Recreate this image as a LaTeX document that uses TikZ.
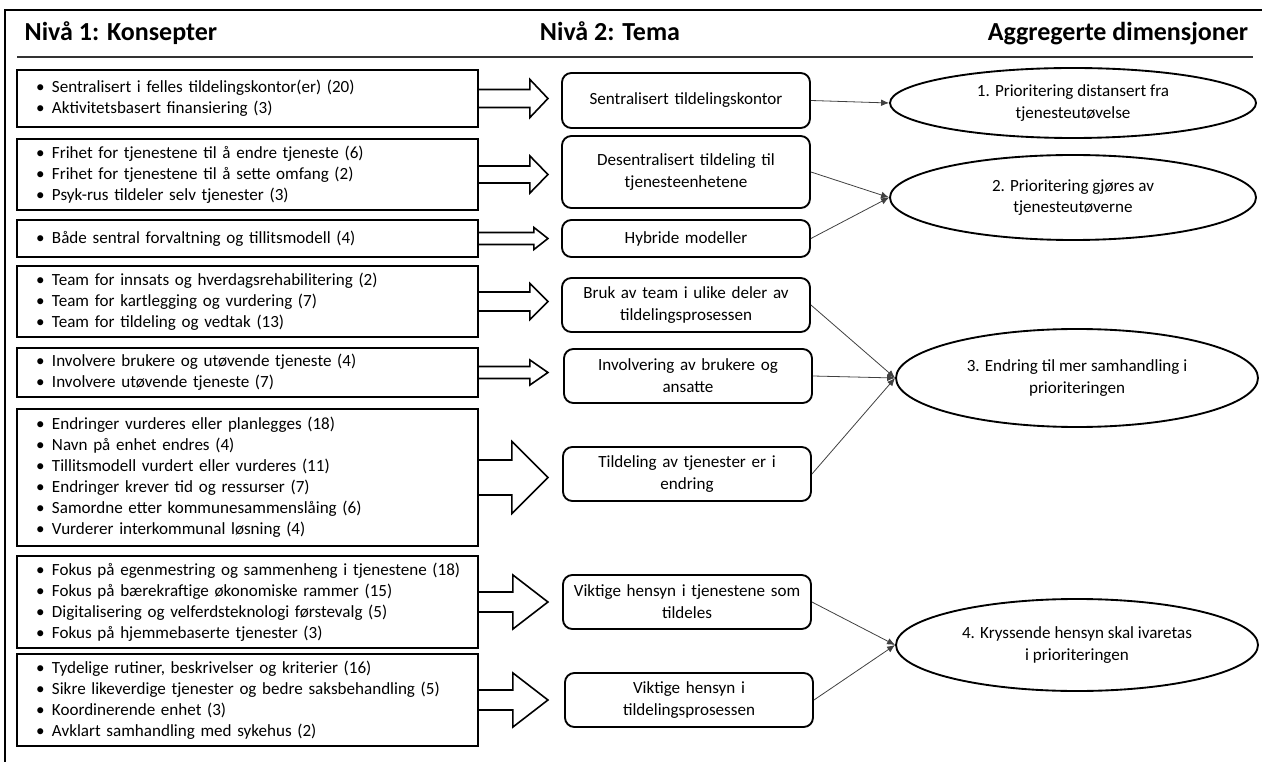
\documentclass[tikz,border=0pt]{standalone}
\usepackage{fontspec}
\setmainfont{Carlito}
\usetikzlibrary{shapes.geometric,arrows.meta}
\newcommand\pkt{\hspace*{14.25pt}\makebox[12pt][l]{\textbullet}}
\tikzset{
  konsept/.style={draw,line width=1.4pt,minimum width=345.75pt,text width=345.75pt,inner xsep=0pt,inner ysep=0pt,align=left,font=\fontsize{12.8}{15.75}\selectfont},
  tema/.style={draw,rounded corners=7pt,line width=1.4pt,minimum width=186pt,text width=182pt,inner xsep=2pt,inner ysep=0pt,minimum height=40.5pt,align=center,font=\fontsize{12.8}{16.5}\selectfont},
  dimensjon/.style={draw,ellipse,line width=1.4pt,inner sep=0pt,align=center,font=\fontsize{12.8}{16}\selectfont},
  overskrift/.style={anchor=base,font=\fontsize{19.5}{22}\selectfont\bfseries},
  blokk/.style={line width=1.2pt,line join=miter},
  pil/.style={-{Latex[length=6pt,width=5pt]},line width=0.6pt,black!75},
}
\begin{document}
\begin{tikzpicture}[x=0.75pt,y=-0.75pt]
\useasboundingbox (0,0) rectangle (1262,762);
\draw[line width=1.5pt] (1262,10) -- (5,10) -- (5,762);
\node[overskrift,anchor=base west] (h1) at (20,41) {Nivå 1: Konsepter};
\node[overskrift] (h2) at (610,41) {Nivå 2: Tema};
\node[overskrift] (h3) at (1118,41) {Aggregerte dimensjoner};
\draw[line width=1.5pt,black!80] (17,57) -- (1253,57);

\node[konsept,minimum height=42.75pt] (k1) at (247.5,98.5) {\pkt Sentralisert i felles tildelingskontor(er) (20)\\ \pkt Aktivitetsbasert finansiering (3)};
\node[konsept,minimum height=53.25pt] (k2) at (247.5,174.5) {\pkt Frihet for tjenestene til å endre tjeneste (6)\\ \pkt Frihet for tjenestene til å sette omfang (2)\\ \pkt Psyk-rus tildeler selv tjenester (3)};
\node[konsept,minimum height=27.75pt] (k3) at (247.5,238.5) {\pkt Både sentral forvaltning og tillitsmodell (4)};
\node[konsept,minimum height=53.25pt] (k4) at (247.5,301.5) {\pkt Team for innsats og hverdagsrehabilitering (2)\\ \pkt Team for kartlegging og vurdering (7)\\ \pkt Team for tildeling og vedtak (13)};
\node[konsept,minimum height=36.75pt] (k5) at (247.5,372.5) {\pkt Involvere brukere og utøvende tjeneste (4)\\ \pkt Involvere utøvende tjeneste (7)};
\node[konsept,minimum height=102.75pt] (k6) at (247.5,477.5) {\pkt Endringer vurderes eller planlegges (18)\\ \pkt Navn på enhet endres (4)\\ \pkt Tillitsmodell vurdert eller vurderes (11)\\ \pkt Endringer krever tid og ressurser (7)\\ \pkt Samordne etter kommunesammenslåing (6)\\ \pkt Vurderer interkommunal løsning (4)};
\node[konsept,minimum height=69pt] (k7) at (247.5,602) {\pkt Fokus på egenmestring og sammenheng i tjenestene (18)\\ \pkt Fokus på bærekraftige økonomiske rammer (15)\\ \pkt Digitalisering og velferdsteknologi førstevalg (5)\\ \pkt Fokus på hjemmebaserte tjenester (3)};
\node[konsept,minimum height=69pt] (k8) at (247.5,700) {\pkt Tydelige rutiner, beskrivelser og kriterier (16)\\ \pkt Sikre likeverdige tjenester og bedre saksbehandling (5)\\ \pkt Koordinerende enhet (3)\\ \pkt Avklart samhandling med sykehus (2)};

\node[tema,minimum height=41.25pt] (t1) at (686,100.5) {Sentralisert tildelingskontor};
\node[tema,minimum height=54pt] (t2) at (686,172) {Desentralisert tildeling til\\ tjenesteenhetene};
\node[tema,minimum height=27.75pt] (t3) at (686,238.5) {Hybride modeller};
\node[tema] (t4) at (686,305) {Bruk av team i ulike deler av\\ tildelingsprosessen};
\node[tema] (t5) at (688,376) {Involvering av brukere og\\ ansatte};
\node[tema] (t6) at (687,474) {Tildeling av tjenester er i\\ endring};
\node[tema] (t7) at (687,602) {Viktige hensyn i tjenestene som\\ tildeles};
\node[tema] (t8) at (689,700) {Viktige hensyn i\\ tildelingsprosessen};

\node[dimensjon,minimum width=274.5pt,minimum height=52.5pt] (d1) at (1073,103) {1. Prioritering distansert fra\\ tjenesteutøvelse};
\node[dimensjon,minimum width=274.5pt,minimum height=63.75pt] (d2) at (1073,197.5) {2. Prioritering gjøres av\\ tjenesteutøverne};
\node[dimensjon,minimum width=271.5pt,minimum height=73.5pt] (d3) at (1077,378) {3. Endring til mer samhandling i\\ prioriteringen};
\node[dimensjon,minimum width=271.5pt,minimum height=69pt] (d4) at (1077,645) {4. Kryssende hensyn skal ivaretas\\ i prioriteringen};

\foreach \k/\s/\h/\b in {k1/9/19/529,k2/8.5/18.5/529,k3/6/11/533,k4/9.5/18/529,k5/6/12.5/529,k6/17.5/36/511,k7/10/27/512,k8/10/27/512}
  \draw[blokk] (\k.east) ++(0,-\s) -- ++(\b-478,0) -- ++(0,\s-\h) -- ++(547-\b,\h) -- ++(\b-547,\h) -- ++(0,\s-\h) -- ++(478-\b,0);

\foreach \a/\b in {t1/d1,t2/d2,t3/d2,t4/d3,t5/d3,t6/d3,t7/d4,t8/d4}
  \draw[pil] (\a.east) -- (\b.west);
\end{tikzpicture}
\end{document}
